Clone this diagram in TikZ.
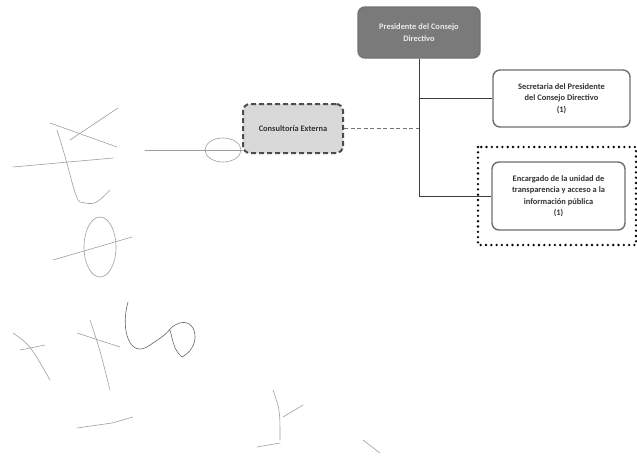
\documentclass[tikz,border=0pt]{standalone}
\usepackage{fontspec}
\setmainfont{Carlito}
\usepackage{xcolor}
\usepackage{tikz}
\usetikzlibrary{arrows.meta,calc,positioning}
\definecolor{boxline}{HTML}{6E6E6E}
\definecolor{treeline}{HTML}{3C3C3C}

\begin{document}
\begin{tikzpicture}[x=1pt,y=-1pt,
  org/.style={draw=boxline,line width=1.4pt,rounded corners=7pt,align=center,
              font=\bfseries\fontsize{8.4}{11.5}\selectfont,text=black!80,fill=#1},
  org/.default=white,
  link/.style={treeline,line width=1pt},
  ink/.style={black!38,line width=0.6pt,line cap=round}]
  \useasboundingbox (0,0) rectangle (637,456);
  \node[org=black!52,draw=black!55,text=white!92!black,minimum width=122pt,minimum height=51pt] (pres) at (419,32.5) {Presidente del Consejo\\Directivo};
  \node[org,minimum width=137pt,minimum height=57pt] (secr) at (561.5,98.5) {Secretaria del Presidente\\del Consejo Directivo\\(1)};
  \node[org,minimum width=133pt,minimum height=68pt] (enca) at (558.5,196) {Encargado de la unidad de\\transparencia y acceso a la\\información pública\\(1)};
  \node[org=black!15,draw=black!70,line width=2pt,dash pattern=on 5pt off 3pt,minimum width=100pt,minimum height=49pt] (cons) at (293,128.5) {Consultoría Externa};
  \draw[black,line width=2.6pt,line cap=round,dash pattern=on 0pt off 5.3pt] (478,147) rectangle (636,245);
  % organigrama
  \draw[link] (pres.south) |- (enca.west);
  \draw[link] (pres.south |- secr.west) -- (secr.west);
  \draw[link,black!55,dash pattern=on 4pt off 2.5pt] (cons.east) -- (cons.east -| pres.south);
  % firmas
  \draw[ink] (145,150) -- (243,150);
  \draw[ink] (223,150) ellipse (18 and 12);
  \draw[ink] (13,167) -- (113,158);
  \draw[ink] (50,123) -- (117,147);
  \draw[ink] (57,130) .. controls (70,170) and (75,200) .. (80,202) .. controls (95,205) .. (110,190);
  \draw[ink] (70,140) -- (118,108);
  \draw[ink] (53,260) -- (132,237);
  \draw[ink] (100,247) ellipse (16 and 30);
  \draw[ink,black!60] (128,302) .. controls (120,330) and (130,360) .. (150,345) .. controls (165,335) .. (172,327) .. controls (195,310) and (205,345) .. (182,357) .. controls (175,350) .. (170,330);
  \draw[ink] (77,333) -- (120,347);
  \draw[ink] (90,320) .. controls (100,350) .. (110,390);
  \draw[ink] (13,333) .. controls (30,345) .. (50,380);
  \draw[ink] (20,350) -- (45,345);
  \draw[ink] (77,428) -- (112,423) -- (133,417);
  \draw[ink] (273,390) .. controls (280,410) .. (280,440);
  \draw[ink] (283,417) -- (303,405);
  \draw[ink] (257,447) -- (280,443);
  \draw[ink] (363,440) -- (380,453);
\end{tikzpicture}
\end{document}
